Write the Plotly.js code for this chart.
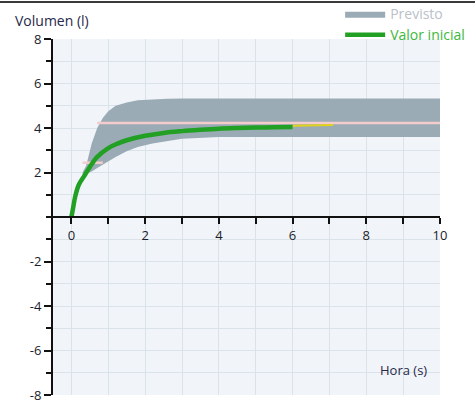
<!DOCTYPE html>
<html>
<head>
<meta charset="utf-8">
<script src="https://cdn.plot.ly/plotly-3.0.1.min.js"></script>
<style>
  html, body { margin: 0; padding: 0; background: #ffffff; }
  #chart { width: 475px; height: 404px; }
  #topline { position: absolute; left: 0; top: 1px; width: 475px; height: 2px; background: #3a3a3a; z-index: 10; }
</style>
</head>
<body>
<div id="topline"></div>
<div id="chart"></div>
<script>
// ---- data ----
var bandX     = [0.3, 0.4, 0.55, 0.7, 0.85, 1.0, 1.2, 1.5, 1.8, 2.2, 2.6, 3.0, 4.0, 5.0, 6.0, 7.0, 8.0, 9.0, 10.0];
var bandUpper = [2.0, 2.3, 3.3, 4.0, 4.45, 4.75, 5.0, 5.15, 5.25, 5.3, 5.32, 5.33, 5.33, 5.33, 5.33, 5.33, 5.33, 5.33, 5.33];
var bandLower = [1.9, 1.95, 2.05, 2.2, 2.35, 2.5, 2.7, 2.95, 3.15, 3.3, 3.42, 3.52, 3.6, 3.6, 3.6, 3.6, 3.6, 3.6, 3.6];

var refX = [0.3, 0.85, null, 0.7, 10];
var refY = [2.44, 2.44, null, 4.22, 4.22];

var valorX = [0, 0.05, 0.1, 0.2, 0.35, 0.5, 0.7, 1.0, 1.25, 1.5, 2.0, 2.5, 3.0, 3.5, 4.0, 4.5, 5.0, 5.5, 6.0];
var valorY = [0, 0.45, 0.9, 1.45, 1.85, 2.25, 2.7, 3.1, 3.3, 3.45, 3.65, 3.78, 3.86, 3.92, 3.97, 4.0, 4.02, 4.03, 4.04];

var contX = [6.0, 7.1];
var contY = [4.1, 4.13];

var xTicks = [0, 2, 4, 6, 8, 10];
var yTicks = [-8, -6, -4, -2, 2, 4, 6, 8];

var yLabel = 'Volumen (l)';
var xLabel = 'Hora (s)';
var nameBand = 'Previsto';
var nameValor = 'Valor inicial';

// ---- traces ----
var traces = [
  { x: bandX, y: bandLower, type: 'scatter', mode: 'lines', line: { width: 0, color: 'rgba(0,0,0,0)' },
    showlegend: false, hoverinfo: 'skip' },
  { x: bandX, y: bandUpper, type: 'scatter', mode: 'lines', fill: 'tonexty',
    fillcolor: '#9aabb5', line: { width: 0, color: '#9aabb5' },
    name: '<span style="color:#b9c1c9">' + nameBand + '</span>' },
  { x: refX, y: refY, type: 'scatter', mode: 'lines', line: { width: 2.5, color: '#f4cccc' },
    showlegend: false, hoverinfo: 'skip' },
  { x: contX, y: contY, type: 'scatter', mode: 'lines', line: { width: 2, color: '#e2d21a' },
    showlegend: false },
  { x: valorX, y: valorY, type: 'scatter', mode: 'lines', line: { width: 4.5, color: '#21a024', shape: 'spline' },
    name: '<span style="color:#3cb83c">' + nameValor + '</span>' }
];

var tickFont = { family: 'Open Sans, sans-serif', size: 13, color: '#1c1c2a' };

var layout = {
  width: 475, height: 404,
  margin: { l: 53, r: 35, t: 39, b: 9, pad: 0, autoexpand: false },
  paper_bgcolor: '#ffffff',
  plot_bgcolor: '#f1f5f9',
  showlegend: true,
  legend: {
    x: 0.742, xanchor: 'left', y: 1.115, yanchor: 'top',
    bgcolor: 'rgba(0,0,0,0)', borderwidth: 0, traceorder: 'normal',
    font: { family: 'Open Sans, sans-serif', size: 14, color: '#3cb83c' },
    itemwidth: 40, tracegroupgap: 0
  },
  xaxis: {
    range: [-0.5, 10], anchor: 'free', position: 0.5,
    tickvals: xTicks, ticktext: xTicks.map(String),
    ticks: 'outside', ticklen: 6, tickwidth: 2, tickcolor: '#111',
    showline: true, linecolor: '#111', linewidth: 2,
    showgrid: true, gridcolor: '#dbe3ea', gridwidth: 1,
    minor: { dtick: 1, tick0: 0, ticks: 'outside', ticklen: 6, tickwidth: 2, tickcolor: '#111', showgrid: true, gridcolor: '#dbe3ea' },
    zeroline: false, tickfont: tickFont, fixedrange: true, ticklabeloverflow: 'allow'
  },
  yaxis: {
    range: [-8, 8],
    tickvals: yTicks, ticktext: yTicks.map(String),
    ticks: 'outside', ticklen: 7, tickwidth: 2, tickcolor: '#111',
    showline: true, linecolor: '#111', linewidth: 2,
    showgrid: true, gridcolor: '#dbe3ea', gridwidth: 1,
    minor: { dtick: 1, tick0: 0, ticks: 'outside', ticklen: 5, tickwidth: 2, tickcolor: '#111', showgrid: true, gridcolor: '#dbe3ea' },
    zeroline: false, tickfont: tickFont, fixedrange: true, ticklabeloverflow: 'allow'
  },
  annotations: [
    { text: yLabel, xref: 'paper', yref: 'paper', x: -0.103, y: 1.053, xanchor: 'left', yanchor: 'middle',
      showarrow: false, font: { family: 'Open Sans, sans-serif', size: 14, color: '#27284a' } },
    { text: xLabel, xref: 'paper', yref: 'paper', x: 0.905, y: 0.07, xanchor: 'center', yanchor: 'middle',
      showarrow: false, font: { family: 'Open Sans, sans-serif', size: 13, color: '#27284a' } }
  ]
};

Plotly.newPlot('chart', traces, layout, { displayModeBar: false, staticPlot: true });
</script>
</body>
</html>
